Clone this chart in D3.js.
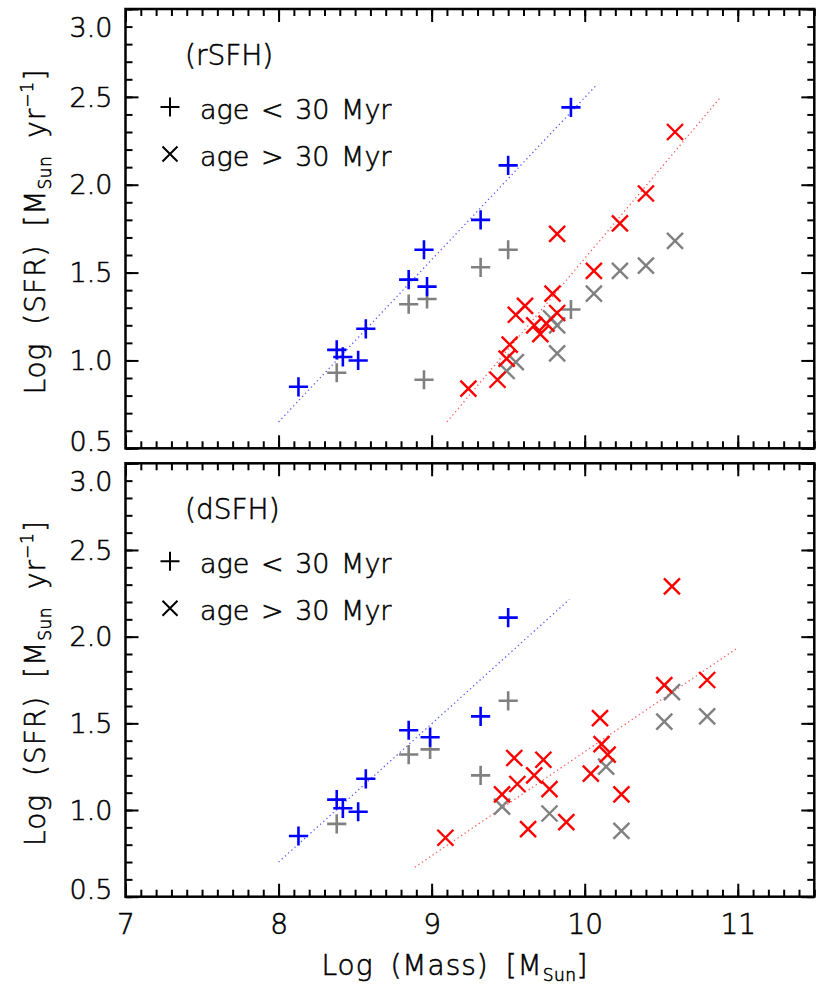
<!DOCTYPE html>
<html><head><meta charset="utf-8">
<script src="https://cdn.jsdelivr.net/npm/d3@7"></script>
<style>
body{margin:0;background:#fff}
svg{display:block}
text{font-family:"DejaVu Sans",sans-serif;fill:#000;font-weight:200;stroke:#000;stroke-width:0.55}
</style>
</head><body><svg id="c" width="830" height="997"></svg>
<script>
// ---- data ----
const xTicks=[7,8,9,10,11];
const yTicks=[0.5,1.0,1.5,2.0,2.5,3.0];
const panelLabels=["(rSFH)","(dSFH)"];
const legendLabels=["age < 30 Myr","age > 30 Myr"];
// top panel (rSFH)
const rYoungX=[9.91,9.50,9.32,8.95,8.85,8.97,8.57,8.38,8.42,8.52,8.13];
const rYoungY=[2.44,2.11,1.80,1.63,1.46,1.42,1.18,1.06,1.02,1.00,0.85];
const rYoungGrayX=[9.50,9.32,8.85,8.97,8.38,8.95,9.91];
const rYoungGrayY=[1.63,1.53,1.32,1.35,0.93,0.89,1.29];
const rOldX=[10.59,10.40,10.23,9.82,10.06,9.79,9.61,9.55,9.82,9.67,9.75,9.71,9.51,9.49,9.43,9.24];
const rOldY=[2.30,1.95,1.78,1.72,1.51,1.38,1.31,1.26,1.27,1.20,1.21,1.15,1.09,1.01,0.89,0.84];
const rOldGrayX=[10.59,10.40,10.23,10.06,9.78,9.82,9.82,9.55,9.49];
const rOldGrayY=[1.68,1.54,1.51,1.38,1.24,1.20,1.04,0.99,0.94];
const rFitYoungX=[8.00,10.08], rFitYoungY=[0.65,2.57];
const rFitOldX=[9.10,10.88], rFitOldY=[0.65,2.49];
// bottom panel (dSFH)
const dYoungX=[9.50,9.32,8.85,8.99,8.57,8.38,8.42,8.52,8.13];
const dYoungY=[2.11,1.54,1.46,1.42,1.18,1.06,1.01,0.99,0.85];
const dYoungGrayX=[9.50,8.85,8.99,9.32,8.38];
const dYoungGrayY=[1.63,1.32,1.35,1.20,0.92];
const dOldX=[10.57,10.80,10.52,10.10,10.11,10.15,10.04,10.24,9.54,9.73,9.67,9.56,9.77,9.46,9.88,9.63,9.09];
const dOldY=[2.29,1.75,1.72,1.53,1.38,1.32,1.21,1.09,1.30,1.29,1.20,1.15,1.12,1.09,0.93,0.89,0.84];
const dOldGrayX=[10.57,10.52,10.80,10.14,10.24,9.77,9.46];
const dOldGrayY=[1.68,1.51,1.54,1.25,0.88,0.98,1.02];
const dFitYoungX=[8.00,9.90], dFitYoungY=[0.70,2.215];
const dFitOldX=[8.89,10.99], dFitOldY=[0.67,1.93];

const panels=[
 {label:panelLabels[0],top:9,bottom:448.3,young:[rYoungX,rYoungY],youngGray:[rYoungGrayX,rYoungGrayY],old:[rOldX,rOldY],oldGray:[rOldGrayX,rOldGrayY],fitY:[rFitYoungX,rFitYoungY],fitO:[rFitOldX,rFitOldY],xlabels:false},
 {label:panelLabels[1],top:463.3,bottom:896.7,young:[dYoungX,dYoungY],youngGray:[dYoungGrayX,dYoungGrayY],old:[dOldX,dOldY],oldGray:[dOldGrayX,dOldGrayY],fitY:[dFitYoungX,dFitYoungY],fitO:[dFitOldX,dFitOldY],xlabels:true}
];

const left=125.5, right=814.3;
const svg=d3.select("#c");
const x=d3.scaleLinear().domain([7,11.5]).range([left,right]);
const minorX=d3.range(70,116).map(v=>v/10);
const minorY=d3.range(5,31).map(v=>v/10);
const plusPath=s=>`M${-s},0H${s}M0,${-s}V${s}`;
const crossPath=s=>`M${-s},${-s}L${s},${s}M${-s},${s}L${s},${-s}`;
const zip=(a)=>a[0].map((v,i)=>[v,a[1][i]]);

panels.forEach(p=>{
  const y=d3.scaleLinear().domain([0.5,3.0]).range([p.bottom,p.top]);
  const g=svg.append("g");
  const axStyle=sel=>{sel.select(".domain").remove();sel.selectAll("line").attr("stroke","#000").attr("stroke-width",2);};
  // minor ticks
  g.append("g").attr("transform",`translate(0,${p.bottom})`).call(d3.axisBottom(x).tickValues(minorX).tickSize(-7).tickFormat("")).call(axStyle);
  g.append("g").attr("transform",`translate(0,${p.top})`).call(d3.axisTop(x).tickValues(minorX).tickSize(-7).tickFormat("")).call(axStyle);
  g.append("g").attr("transform",`translate(${left},0)`).call(d3.axisLeft(y).tickValues(minorY).tickSize(-7).tickFormat("")).call(axStyle);
  g.append("g").attr("transform",`translate(${right},0)`).call(d3.axisRight(y).tickValues(minorY).tickSize(-7).tickFormat("")).call(axStyle);
  // major ticks
  const xb=g.append("g").attr("transform",`translate(0,${p.bottom})`).call(d3.axisBottom(x).tickValues(xTicks).tickSize(-13).tickPadding(17).tickFormat(p.xlabels?d3.format("d"):"")).call(axStyle);
  xb.selectAll("text").attr("font-size",28).attr("font-family","DejaVu Sans").attr("font-weight",200).attr("fill","#000").attr("stroke","#000").attr("stroke-width",0.55);
  g.append("g").attr("transform",`translate(0,${p.top})`).call(d3.axisTop(x).tickValues(xTicks).tickSize(-13).tickFormat("")).call(axStyle);
  g.append("g").attr("transform",`translate(${left},0)`).call(d3.axisLeft(y).tickValues(yTicks).tickSize(-13).tickFormat("")).call(axStyle);
  g.append("g").attr("transform",`translate(${right},0)`).call(d3.axisRight(y).tickValues(yTicks).tickSize(-13).tickFormat("")).call(axStyle);
  // y labels (end labels nudged inside the frame)
  g.selectAll("text.yl").data(yTicks).enter().append("text").attr("class","yl")
    .attr("x",left-13).attr("text-anchor","end").attr("font-size",27)
    .attr("y",d=>Math.min(Math.max(y(d),p.top+18),p.bottom-7)).attr("dy","0.36em")
    .text(d=>d3.format(".1f")(d));
  // frame
  g.append("rect").attr("x",left).attr("y",p.top).attr("width",right-left).attr("height",p.bottom-p.top)
    .attr("fill","none").attr("stroke","#000").attr("stroke-width",2.5);
  // fit lines
  const line=d3.line().x(d=>x(d[0])).y(d=>y(d[1]));
  g.append("path").attr("d",line(zip(p.fitY))).attr("stroke","#5a5aff").attr("stroke-width",1.3).attr("stroke-dasharray","1.3,3").attr("fill","none");
  g.append("path").attr("d",line(zip(p.fitO))).attr("stroke","#ff5a5a").attr("stroke-width",1.3).attr("stroke-dasharray","1.3,3").attr("fill","none");
  // markers
  const draw=(pts,path,color,sw)=>g.append("g").selectAll("path").data(pts).enter().append("path")
    .attr("transform",d=>`translate(${x(d[0])},${y(d[1])})`).attr("d",path).attr("stroke",color).attr("stroke-width",sw).attr("fill","none");
  draw(zip(p.youngGray),plusPath(9.6),"#808080",2.6);
  draw(zip(p.oldGray),crossPath(8),"#808080",2.4);
  draw(zip(p.old),crossPath(8),"#ff0000",2.4);
  draw(zip(p.young),plusPath(9.6),"#0000ff",2.6);
  // panel label + legend
  g.append("text").attr("x",185).attr("y",p.top+56).attr("font-size",28).text(p.label);
  g.append("path").attr("transform",`translate(170,${p.top+98})`).attr("d",plusPath(9.5)).attr("stroke","#000").attr("stroke-width",2);
  g.append("path").attr("transform",`translate(170,${p.top+145})`).attr("d",crossPath(7.5)).attr("stroke","#000").attr("stroke-width",2);
  g.append("text").attr("x",200).attr("y",p.top+110).attr("font-size",27).attr("word-spacing",3).text(legendLabels[0]);
  g.append("text").attr("x",200).attr("y",p.top+157).attr("font-size",27).attr("word-spacing",3).text(legendLabels[1]);
  // y title
  const cy=(p.top+p.bottom)/2+3;
  const yt=g.append("text").attr("transform",`translate(45,${cy}) rotate(-90)`).attr("text-anchor","middle").attr("font-size",28).attr("word-spacing",8).attr("letter-spacing",1);
  yt.append("tspan").text("Log (SFR) [M");
  yt.append("tspan").attr("font-size",17).attr("dy",6).attr("letter-spacing",0.5).text("Sun");
  yt.append("tspan").attr("dy",-6).text(" yr");
  yt.append("tspan").attr("font-size",17).attr("dy",-12).text("−1");
  yt.append("tspan").attr("dy",12).text("]");
});
// x title
const xt=svg.append("text").attr("x",455).attr("y",975).attr("text-anchor","middle").attr("font-size",28).attr("word-spacing",7).attr("letter-spacing",1);
xt.append("tspan").text("Log (Mass) [M");
xt.append("tspan").attr("font-size",17).attr("dy",6).attr("letter-spacing",0.5).text("Sun");
xt.append("tspan").attr("dy",-6).text("]");
</script>
</body></html>
